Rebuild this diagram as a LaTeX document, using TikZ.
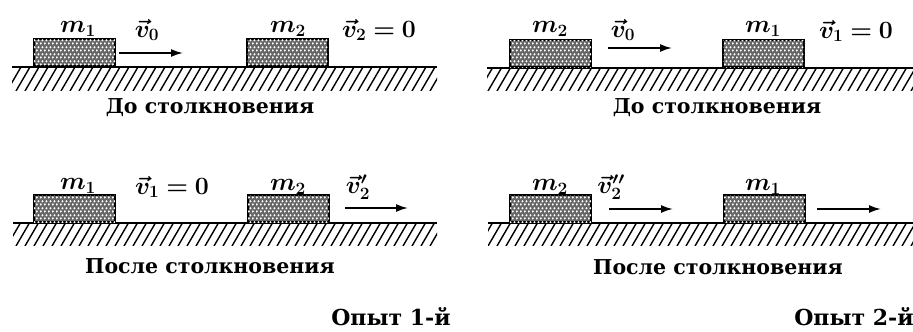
\documentclass[tikz,border=0pt]{standalone}
\usepackage{fontspec}
\setmainfont{DejaVu Serif}
\usepackage{bm}
\usetikzlibrary{arrows.meta,patterns.meta}
\tikzdeclarepattern{name=wdots, type=uncolored,
  bounding box={(0pt,0pt) and (4pt,7pt)}, tile size={(4pt,7pt)},
  code={\fill (1pt,1.75pt) circle (1.35pt); \fill (3pt,5.25pt) circle (1.35pt);}}
\begin{document}
\begin{tikzpicture}[x=1pt,y=-1pt,
  blk/.style={draw=black, line width=2pt, fill=black!60,
    postaction={pattern=wdots, pattern color=white},
    minimum width=81pt, minimum height=27pt, inner sep=0pt, anchor=south west},
  grnd/.style={line width=2.6pt},
  hatch/.style={line width=1.4pt},
  vel/.style={line width=1.8pt, -{Latex[length=12pt,width=8pt]}},
  lbl/.style={inner sep=0pt, font=\fontsize{24}{28}\selectfont},
  captxt/.style={inner sep=0pt, font=\fontsize{20.5}{24}\selectfont\bfseries}]
\useasboundingbox (0,0) rectangle (913,332);
% ---------- hatching ----------
\begin{scope}
  \clip (12,68) rectangle (437,90);
  \foreach \x in {-20,-11,...,440} \draw[hatch] (\x,91) -- ++(14,-24);
\end{scope}
\begin{scope}
  \clip (487,69) rectangle (913,90);
  \foreach \x in {470,479,...,913} \draw[hatch] (\x,91) -- ++(14,-24);
\end{scope}
\begin{scope}
  \clip (13,224) rectangle (437,245);
  \foreach \x in {-20,-11,...,440} \draw[hatch] (\x,246) -- ++(14,-24);
\end{scope}
\begin{scope}
  \clip (488,224) rectangle (913,245);
  \foreach \x in {470,479,...,913} \draw[hatch] (\x,246) -- ++(14,-24);
\end{scope}
% ---------- ground lines ----------
\coordinate (g1a) at (12,67);  \coordinate (g1b) at (437,67);
\coordinate (g2a) at (487,68); \coordinate (g2b) at (913,68);
\coordinate (g3a) at (13,223); \coordinate (g3b) at (437,223);
\coordinate (g4a) at (488,223);\coordinate (g4b) at (913,223);
\draw[grnd] (g1a) -- (g1b);
\draw[grnd] (g2a) -- (g2b);
\draw[grnd] (g3a) -- (g3b);
\draw[grnd] (g4a) -- (g4b);
% ---------- blocks ----------
\node[blk] (tl1) at (33,67) {};
\node[blk] (tl2) at (246,67) {};
\node[blk] (tr2) at (509,68) {};
\node[blk] (tr1) at (722,68) {};
\node[blk] (bl1) at (33,223) {};
\node[blk] (bl2) at (247,223) {};
\node[blk] (br2) at (509,223) {};
\node[blk] (br1) at (723,223) {};
% ---------- mass labels ----------
\node[lbl] (ltl1) at (78,29) {$\bm{m_1}$};
\node[lbl] (ltl2) at (288,29) {$\bm{m_2}$};
\node[lbl] (ltr2) at (550,29) {$\bm{m_2}$};
\node[lbl] (ltr1) at (763,29) {$\bm{m_1}$};
\node[lbl] (lbl1) at (78,186) {$\bm{m_1}$};
\node[lbl] (lbl2) at (288,187) {$\bm{m_2}$};
\node[lbl] (lbr2) at (550,187) {$\bm{m_2}$};
\node[lbl] (lbr1) at (763,187) {$\bm{m_1}$};
% ---------- velocity labels ----------
\node[lbl] (v0a) at (147,30) {$\bm{\vec v_0}$};
\node[lbl] (v2z) at (379,30) {$\bm{\vec v_2 = 0}$};
\node[lbl] (v0b) at (623,30) {$\bm{\vec v_0}$};
\node[lbl] (v1z) at (856,31) {$\bm{\vec v_1 = 0}$};
\node[lbl] (v1zb) at (172,187) {$\bm{\vec v_1 = 0}$};
\node[lbl] (v2p) at (358,187) {$\bm{\vec v_2'}$};
\node[lbl] (v2pp) at (611,187) {$\bm{\vec v_2''}$};
% ---------- velocity arrows ----------
\coordinate (a1s) at (119,53); \coordinate (a1e) at (183,53);
\coordinate (a2s) at (608,48); \coordinate (a2e) at (672,48);
\coordinate (a3s) at (345,208); \coordinate (a3e) at (408,208);
\coordinate (a4s) at (609,209); \coordinate (a4e) at (673,209);
\coordinate (a5s) at (817,209); \coordinate (a5e) at (881,209);
\draw[vel] (a1s) -- (a1e);
\draw[vel] (a2s) -- (a2e);
\draw[vel] (a3s) -- (a3e);
\draw[vel] (a4s) -- (a4e);
\draw[vel] (a5s) -- (a5e);
% ---------- captions ----------
\node[captxt] (c1) at (210,108) {До столкновения};
\node[captxt] (c2) at (717,108) {До столкновения};
\node[captxt] (c3) at (210,266) {После столкновения};
\node[captxt] (c4) at (718,267) {После столкновения};
\node[captxt, font=\fontsize{22}{26}\selectfont\bfseries] (e1) at (391,317) {Опыт 1-й};
\node[captxt, font=\fontsize{22}{26}\selectfont\bfseries] (e2) at (854,317) {Опыт 2-й};
\end{tikzpicture}
\end{document}
